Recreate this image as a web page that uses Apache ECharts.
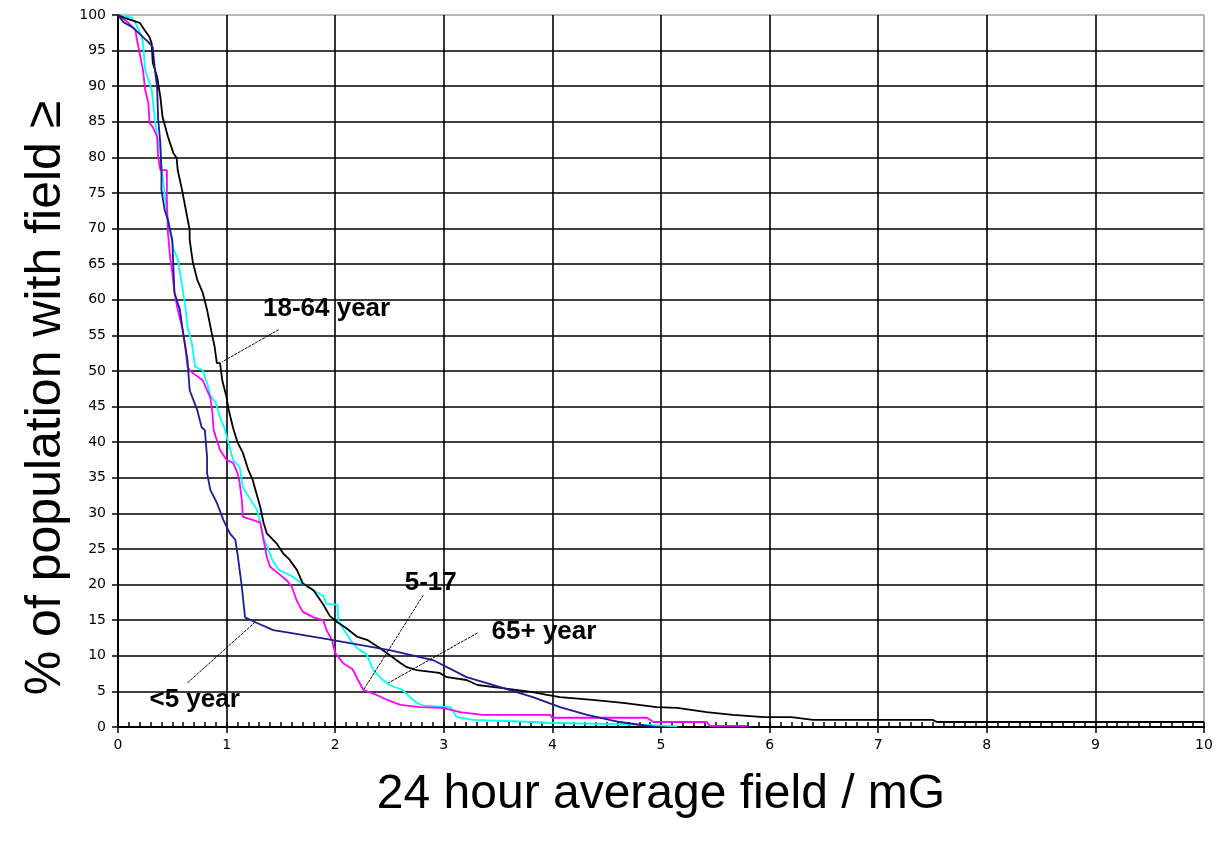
<!DOCTYPE html>
<html>
<head>
<meta charset="utf-8">
<script src="https://cdn.jsdelivr.net/npm/echarts@6/dist/echarts.min.js"></script>
<style>
html,body{margin:0;padding:0;background:#fff;}
#chart{width:1219px;height:843px;}
</style>
</head>
<body>
<div id="chart"></div>
<script>
// ---- data (x = 24 h average field / mG, y = % of population with field >=) ----
const seriesNames = ['65+ year', '5-17', '18-64 year', '<5 year'];

const age65plus = [[0,100],[0.13,99.6],[0.17,98.6],[0.22,96.9],[0.23,96],[0.25,92.3],[0.28,90.9],[0.31,89.5],[0.32,88.1],[0.34,85.3],[0.36,82.9],[0.39,81],[0.4,78.7],[0.45,72.2],[0.48,69.4],[0.51,67.2],[0.55,65.8],[0.59,62],[0.62,59],[0.64,56.2],[0.68,53.9],[0.71,50.6],[0.78,50.1],[0.82,48.3],[0.85,46.6],[0.9,45.5],[0.94,43.5],[0.98,42],[1.01,40.3],[1.06,37.5],[1.12,36.5],[1.15,33.7],[1.22,31.9],[1.28,30.5],[1.31,28.7],[1.34,26.5],[1.38,25.1],[1.42,23.5],[1.46,22.5],[1.49,22],[1.6,21.2],[1.68,20.3],[1.77,19.5],[1.89,18.4],[1.92,17.3],[2.02,17.2],[2.03,15],[2.07,13.9],[2.14,12.2],[2.2,11.1],[2.29,10.2],[2.35,8],[2.44,6.6],[2.5,5.9],[2.62,5.2],[2.69,4.2],[2.75,3.4],[2.81,3.0],[3.06,2.8],[3.12,1.4],[3.27,1.0],[3.82,0.7],[3.95,0.6],[4.87,0.3],[5.15,0.1]];

const age5to17 = [[0,100],[0.09,99],[0.16,97.9],[0.17,96.9],[0.2,94.6],[0.23,92.3],[0.25,89.5],[0.28,87.6],[0.29,84.8],[0.32,84.3],[0.36,82.9],[0.37,80.1],[0.39,78.2],[0.45,78.2],[0.45,74],[0.46,69.4],[0.48,66],[0.5,63.8],[0.52,61],[0.55,58.6],[0.59,56.2],[0.62,53.4],[0.64,50.6],[0.66,50.1],[0.69,49.7],[0.78,48.7],[0.82,47.3],[0.85,46.3],[0.87,44.1],[0.88,41.7],[0.94,38.9],[1.0,37.5],[1.06,37.1],[1.1,35.7],[1.12,34.3],[1.14,31.9],[1.15,29.5],[1.24,29.1],[1.31,28.7],[1.34,26.3],[1.37,23.9],[1.4,22.5],[1.49,21.4],[1.56,20.5],[1.6,19.7],[1.65,17.6],[1.7,16.2],[1.8,15.4],[1.89,15],[1.92,13.6],[1.97,12.2],[2.0,10.4],[2.07,9],[2.16,8.1],[2.21,6.6],[2.26,5.2],[2.38,4.5],[2.48,3.8],[2.6,3.1],[2.78,2.8],[2.99,2.7],[3.15,2.1],[3.36,1.7],[3.98,1.7],[4.0,1.3],[4.87,1.3],[4.93,0.7],[5.42,0.7],[5.45,0.15],[5.8,0.15]];

const age18to64 = [[0,100],[0.06,99.6],[0.2,98.9],[0.23,98.2],[0.29,96.9],[0.31,96],[0.32,93.3],[0.36,91.3],[0.39,88.5],[0.41,85.7],[0.46,82.9],[0.51,80.6],[0.54,79.9],[0.55,78.2],[0.59,75.4],[0.62,73],[0.66,69.8],[0.66,68.4],[0.69,65.2],[0.73,62.8],[0.78,61],[0.82,58.6],[0.87,54.8],[0.89,53.4],[0.91,51.1],[0.94,51.1],[0.96,48.7],[1.0,46.3],[1.02,44.5],[1.06,42],[1.1,40],[1.15,38.5],[1.2,36.1],[1.24,34.7],[1.28,32.5],[1.31,30.9],[1.34,28.7],[1.37,27.2],[1.46,25.8],[1.52,24.4],[1.58,23.5],[1.65,22],[1.7,20.2],[1.8,19.2],[1.89,17.2],[1.95,15.6],[2.02,14.7],[2.1,13.9],[2.2,12.7],[2.3,12.2],[2.41,11.1],[2.5,10.1],[2.6,9],[2.66,8.4],[2.75,8],[2.96,7.6],[3.03,7],[3.21,6.6],[3.31,5.9],[3.52,5.5],[3.82,4.9],[3.95,4.5],[4.07,4.2],[4.37,3.8],[4.65,3.4],[4.96,2.8],[5.15,2.7],[5.42,2.1],[5.66,1.7],[5.95,1.4],[6.2,1.4],[6.4,1.0],[7.5,1.0],[7.54,0.7],[10,0.7]];

const ageUnder5 = [[0,100],[0.05,99],[0.14,98.2],[0.23,96.9],[0.28,96.2],[0.32,95.5],[0.34,92.3],[0.36,89.9],[0.37,85.3],[0.39,82],[0.4,78.2],[0.4,75.4],[0.43,72.6],[0.46,71.2],[0.5,68.4],[0.51,64.6],[0.52,61],[0.57,58.6],[0.6,55.3],[0.64,51.5],[0.66,47.3],[0.73,44.5],[0.77,42.1],[0.8,41.7],[0.82,37.9],[0.82,35.7],[0.85,33.3],[0.91,31.5],[0.97,29.1],[1.03,27.2],[1.08,26.3],[1.1,24.4],[1.14,19.7],[1.17,15.4],[1.28,14.6],[1.43,13.6],[1.6,13.2],[1.9,12.4],[2.2,11.6],[2.5,10.8],[2.9,9.4],[3.21,7],[3.52,5.6],[3.82,4.2],[4.07,2.8],[4.32,1.7],[4.62,0.7],[4.95,0]];

// annotation labels: [text, label anchor (x,y), leader start (x,y), leader end (x,y)]
const annotationTexts = ['18-64 year', '<5 year', '5-17', '65+ year'];
const annotationAnchors = [[1.335, 58.8], [0.29, 3.8], [2.64, 20.2], [3.44, 13.3]];
const leaderStarts = [[1.48, 55.8], [0.64, 6.2], [2.81, 18.5], [3.31, 13.2]];
const leaderEnds = [[0.96, 51.3], [1.26, 14.7], [2.26, 5.2], [2.49, 6.2]];

const xTitle = '24 hour average field / mG';
const yTitle = '% of population with field ≥';

// ---- chart ----
const chart = echarts.init(document.getElementById('chart'), null, {renderer: 'canvas'});
const gridTop = 15, gridBottom = 116, gridLeft = 118, gridRight = 15;
const gridH = 843 - gridTop - gridBottom;

const yLineColors = [];
for (let i = 0; i < 21; i++) yLineColors.push(i === 20 ? '#a0a0a0' : '#000');
const xLineColors = [];
for (let i = 0; i < 11; i++) xLineColors.push(i === 10 ? '#a0a0a0' : '#000');

const tickFont = {fontFamily: 'DejaVu Sans', fontSize: 14, color: '#000'};

const mkSeries = (name, data, color) => ({
  name, type: 'line', data, showSymbol: false, symbol: 'none',
  lineStyle: {color, width: 1.8}, itemStyle: {color}, animation: false, z: 3
});

chart.setOption({
  animation: false,
  backgroundColor: '#fff',
  grid: {left: gridLeft, right: gridRight, top: gridTop, bottom: gridBottom, containLabel: false},
  xAxis: [{
    type: 'value', min: 0, max: 10, interval: 1, position: 'bottom',
    axisLine: {show: true, lineStyle: {color: '#000', width: 2}},
    axisTick: {show: true, length: 6, lineStyle: {color: '#000', width: 1.5}},
    axisLabel: Object.assign({margin: 11}, tickFont),
    splitLine: {show: true, lineStyle: {color: xLineColors, width: 1.6}},
    name: xTitle, nameLocation: 'middle', nameGap: 44,
    nameTextStyle: {fontFamily: 'Liberation Sans', fontSize: 48, color: '#000', verticalAlign: 'top'}
  }, {
    type: 'value', min: 0, max: 10, interval: 0.1, position: 'top', offset: -gridH,
    axisLine: {show: false}, axisLabel: {show: false}, splitLine: {show: false},
    axisTick: {show: true, inside: false, length: 5, lineStyle: {color: '#000', width: 1.5}}
  }],
  yAxis: {
    type: 'value', min: 0, max: 100, interval: 5,
    axisLine: {show: true, lineStyle: {color: '#000', width: 2}},
    axisTick: {show: true, length: 6, lineStyle: {color: '#000', width: 1.5}},
    axisLabel: Object.assign({margin: 12}, tickFont),
    splitLine: {show: true, lineStyle: {color: yLineColors, width: 1.6}}
  },
  series: [
    mkSeries(seriesNames[0], age65plus, '#00ffff'),
    mkSeries(seriesNames[1], age5to17, '#ff00ff'),
    mkSeries(seriesNames[2], age18to64, '#000000'),
    mkSeries(seriesNames[3], ageUnder5, '#1c1c96')
  ]
});

// annotations placed through the chart's own coordinate system
const px = p => chart.convertToPixel({gridIndex: 0}, p);
const graphics = [{
  type: 'text', x: 46, y: 398, rotation: Math.PI / 2,
  style: {text: yTitle, fill: '#000', font: '50px "Liberation Sans"', textAlign: 'center', textVerticalAlign: 'middle'}
}];
annotationTexts.forEach((t, i) => {
  const a = px(annotationAnchors[i]);
  const s = px(leaderStarts[i]);
  const e = px(leaderEnds[i]);
  graphics.push({
    type: 'line', shape: {x1: s[0], y1: s[1], x2: e[0], y2: e[1]},
    style: {stroke: '#000', lineWidth: 1, lineDash: [3, 1]}, z: 10
  });
  graphics.push({
    type: 'text', x: a[0], y: a[1],
    style: {text: t, fill: '#000', font: 'bold 26px "Liberation Sans"', textAlign: 'left', textVerticalAlign: 'middle'}, z: 10
  });
});
chart.setOption({graphic: graphics});
</script>
</body>
</html>
